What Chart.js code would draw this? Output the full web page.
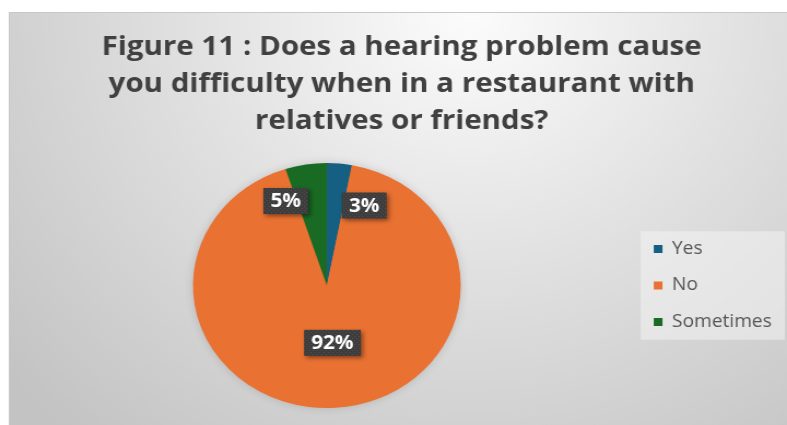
<!DOCTYPE html>
<html>
<head>
<meta charset="utf-8">
<title>Figure 11</title>
<script src="https://cdn.jsdelivr.net/npm/chart.js@4.4.1/dist/chart.umd.min.js"></script>
<style>
  html, body { margin: 0; padding: 0; background: #fff; }
</style>
</head>
<body>
<!-- canvas is drawn narrower and widened by css, so the pie comes out oval -->
<canvas id="pie" width="720" height="425" style="display:block;width:787px;height:425px"></canvas>
<script>
const categories = ['Yes', 'No', 'Sometimes'];
const shares = [3, 92, 5];
const sliceColors = ['#156082', '#E97132', '#196B24'];
const titleLines = [
    'Figure 11 : Does a hearing problem cause',
    'you difficulty when in a restaurant with',
    'relatives or friends?'
];

// where each percentage tag sits: turn (deg) off the slice middle, depth as share of radius
const tagPlacement = [
    { turn: 17.7, depth: 0.71 },
    { turn: -1.4, depth: 0.47 },
    { turn: -15, depth: 0.755 }
];

const makeDots = () => {
    const c = document.createElement('canvas');
    c.width = 4;
    c.height = 4;
    const g = c.getContext('2d');
    g.fillStyle = '#3d3d3d';
    g.fillRect(0, 0, 4, 4);
    g.fillStyle = 'rgba(255,255,255,0.10)';
    g.fillRect(0, 0, 1, 1);
    g.fillRect(2, 2, 1, 1);
    return c;
};

const panel = {
    id: 'panel',
    beforeDraw(chart) {
        const { ctx, width, height } = chart;
        ctx.save();
        ctx.fillStyle = '#fff';
        ctx.fillRect(0, 0, width, height);

        const g = ctx.createRadialGradient(430, 10, 10, 430, 10, 560);
        g.addColorStop(0, '#fbfbfb');
        g.addColorStop(0.45, '#e1e1e1');
        g.addColorStop(1, '#c3c3c3');
        ctx.fillStyle = g;
        ctx.fillRect(8, 12, width - 8, height - 12);

        ctx.strokeStyle = '#c8c8c8';
        ctx.lineWidth = 1;
        ctx.beginPath();
        ctx.moveTo(8.5, height);
        ctx.lineTo(8.5, 12.5);
        ctx.lineTo(width, 12.5);
        ctx.stroke();

        // soft backdrop behind the legend
        const hb = chart.legend && chart.legend.legendHitBoxes;
        if (hb && hb.length) {
            const first = hb[0];
            const last = hb[hb.length - 1];
            const x0 = first.left - 12;
            const y0 = first.top - 9;
            ctx.fillStyle = 'rgba(245,245,245,0.5)';
            ctx.fillRect(x0, y0, 718 - x0, last.top + last.height + 9 - y0);
        }
        ctx.restore();
    },
    beforeDatasetsDraw(chart) {
        // faint halo under the pie
        const arc = chart.getDatasetMeta(0).data[0];
        if (!arc) return;
        const { x, y, outerRadius } = arc.getProps(['x', 'y', 'outerRadius'], true);
        const { ctx } = chart;
        ctx.save();
        ctx.shadowColor = 'rgba(0,0,0,0.18)';
        ctx.shadowBlur = 10;
        ctx.fillStyle = '#E97132';
        ctx.beginPath();
        ctx.arc(x, y, outerRadius - 1, 0, Math.PI * 2);
        ctx.fill();
        ctx.restore();
    }
};

const tags = {
    id: 'tags',
    afterDatasetsDraw(chart) {
        const { ctx } = chart;
        const dots = ctx.createPattern(makeDots(), 'repeat');
        const meta = chart.getDatasetMeta(0);
        meta.data.forEach((arc, i) => {
            const { x, y, startAngle, endAngle, outerRadius } =
                arc.getProps(['x', 'y', 'startAngle', 'endAngle', 'outerRadius'], true);
            const p = tagPlacement[i];
            const a = (startAngle + endAngle) / 2 + p.turn * Math.PI / 180;
            const cx = x + Math.cos(a) * outerRadius * p.depth;
            const cy = y + Math.sin(a) * outerRadius * p.depth;
            const text = `${shares[i]}%`;

            ctx.save();
            ctx.font = '700 19px "Open Sans"';
            const w = ctx.measureText(text).width + 13;
            const h = 26;
            ctx.shadowColor = 'rgba(0,0,0,0.45)';
            ctx.shadowBlur = 4;
            ctx.shadowOffsetX = 2;
            ctx.shadowOffsetY = 2;
            ctx.fillStyle = dots;
            ctx.fillRect(cx - w / 2, cy - h / 2, w, h);
            ctx.shadowColor = 'transparent';
            ctx.fillStyle = '#fff';
            ctx.textAlign = 'center';
            ctx.textBaseline = 'middle';
            ctx.fillText(text, cx, cy + 1);
            ctx.restore();
        });
    }
};

new Chart(document.getElementById('pie'), {
    type: 'pie',
    data: {
        labels: categories,
        datasets: [{
            data: shares,
            backgroundColor: sliceColors,
            borderWidth: 0
        }]
    },
    options: {
        responsive: false,
        devicePixelRatio: 1,
        animation: false,
        layout: {
            padding: { left: 19, right: 4, top: 12, bottom: 17 }
        },
        plugins: {
            title: {
                display: true,
                text: titleLines,
                color: '#404040',
                font: { family: '"Open Sans"', size: 27, weight: '700', lineHeight: '37px' },
                padding: { top: 16.5, bottom: 23.5 }
            },
            legend: {
                position: 'right',
                fullSize: false,
                labels: {
                    boxWidth: 8,
                    boxHeight: 8,
                    padding: 19,
                    color: '#555555',
                    font: { family: '"Open Sans"', size: 17.5 }
                }
            },
            tooltip: { enabled: false }
        }
    },
    plugins: [panel, tags]
});
</script>
</body>
</html>
